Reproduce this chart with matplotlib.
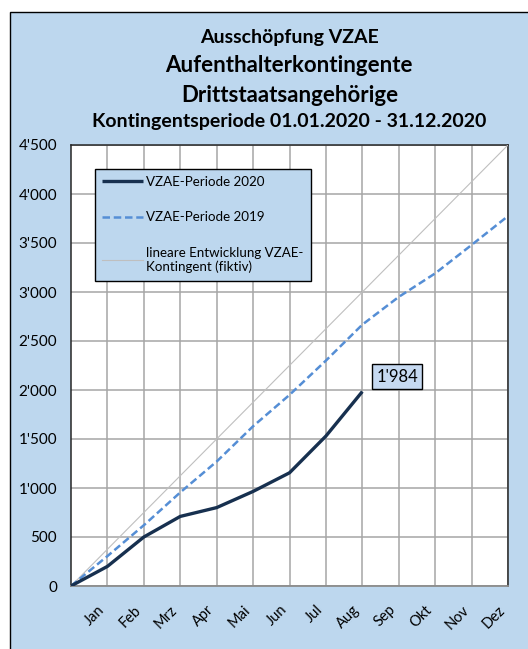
import matplotlib
matplotlib.use('Agg')
import matplotlib.pyplot as plt
from matplotlib.patches import Rectangle
from matplotlib.ticker import FuncFormatter

plt.rcParams['font.family'] = ['Lato', 'DejaVu Sans']

months = ['Jan', 'Feb', 'Mrz', 'Apr', 'Mai', 'Jun', 'Jul', 'Aug', 'Sep', 'Okt', 'Nov', 'Dez']
# cumulative values, first point is the start of the period (0)
vzae_2020 = [0, 200, 500, 710, 800, 965, 1155, 1530, 1984]
vzae_2019 = [0, 305, 620, 955, 1270, 1630, 1950, 2300, 2667, 2950, 3190, 3480, 3775]
linear = [0, 4500]
y_ticks = [0, 500, 1000, 1500, 2000, 2500, 3000, 3500, 4000, 4500]

bg = '#BDD7EE'

fig = plt.figure(figsize=(5.28, 6.49), dpi=100, facecolor='white')
fig.patches.append(Rectangle((10 / 528, -0.5), 2, 0.5 + 1 - 12 / 649,
                             transform=fig.transFigure, facecolor=bg,
                             edgecolor='black', linewidth=1, zorder=-10))

ax = fig.add_axes([71 / 528, 1 - 586 / 649, 437 / 528, 441 / 649])
ax.set_facecolor('white')

ax.plot([0, 12], linear, color='#BFBFBF', linewidth=0.8,
        label='lineare Entwicklung VZAE-\nKontingent (fiktiv)', zorder=3)
ax.plot(range(len(vzae_2019)), vzae_2019, color='#558ED5', linewidth=1.8,
        linestyle=(0, (3, 1.5)), label='VZAE-Periode 2019', zorder=4)
ax.plot(range(len(vzae_2020)), vzae_2020, color='#17304F', linewidth=2.4,
        solid_capstyle='butt', label='VZAE-Periode 2020', zorder=5)

ax.set_xlim(0, 12)
ax.set_ylim(0, 4500)
ax.set_xticks(range(1, 13))
ax.set_xticklabels(months, rotation=45, ha='right', va='top', fontsize=10.5)
ax.set_yticks(y_ticks)
ax.yaxis.set_major_formatter(FuncFormatter(lambda v, p: f"{int(v):,}".replace(',', "'")))
ax.tick_params(axis='y', length=0, pad=10, labelsize=11)
ax.tick_params(axis='x', length=0, pad=12)
ax.grid(True, color='#A6A6A6', linewidth=1.1)
ax.set_axisbelow(True)
for side in ['top', 'right', 'left']:
    ax.spines[side].set_color('#262626')
    ax.spines[side].set_linewidth(1.1)
ax.spines['bottom'].set_color('#8C8C8C')
ax.spines['bottom'].set_linewidth(1.3)

# legend in reverse order (2020 first)
h, l = ax.get_legend_handles_labels()
leg = ax.legend(h[::-1], l[::-1], loc='upper left', bbox_to_anchor=(17 / 437, 1 - 17 / 441),
                fontsize=9.6, frameon=True, fancybox=False, facecolor=bg,
                edgecolor='black', framealpha=1, labelspacing=1.75,
                handlelength=3.1, handletextpad=0.2, borderpad=0.55)
leg.get_frame().set_linewidth(1)

ax.annotate("1'984", xy=(8, vzae_2020[-1]), xytext=(10, 5), textcoords='offset points',
            ha='left', va='bottom', fontsize=12,
            bbox=dict(boxstyle='square,pad=0.25', facecolor='#C6D9F1', edgecolor='black', linewidth=1))

fig.text(0.548, 1 - 38 / 649, 'Ausschöpfung VZAE', ha='center', va='center',
         fontsize=14, fontweight='bold')
fig.text(0.548, 1 - 65 / 649, 'Aufenthalterkontingente', ha='center', va='center',
         fontsize=16, fontweight='bold')
fig.text(0.548, 1 - 95 / 649, 'Drittstaatsangehörige', ha='center', va='center',
         fontsize=16, fontweight='bold')
fig.text(0.548, 1 - 122 / 649, 'Kontingentsperiode 01.01.2020 - 31.12.2020', ha='center',
         va='center', fontsize=14, fontweight='bold')

fig.savefig('out.png', dpi=100, facecolor='white')
